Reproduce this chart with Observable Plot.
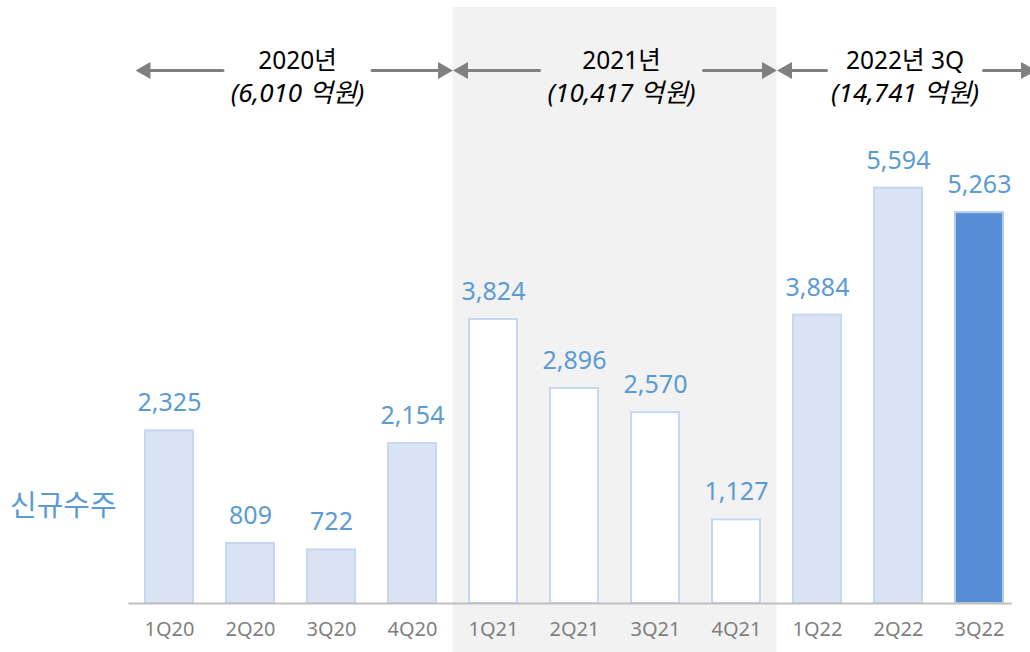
<!DOCTYPE html>
<html><head><meta charset="utf-8">
<script src="https://cdn.jsdelivr.net/npm/d3@7"></script>
<script src="https://cdn.jsdelivr.net/npm/@observablehq/plot@0.6"></script>
<style>
html,body{margin:0;padding:0;background:#fff;}
#chart svg{display:block;}
</style></head><body><div id="chart"></div>
<script>
// ---- data ----
const quarters = ["1Q20","2Q20","3Q20","4Q20","1Q21","2Q21","3Q21","4Q21","1Q22","2Q22","3Q22"];
const values = [2325, 809, 722, 2154, 3824, 2896, 2570, 1127, 3884, 5594, 5263];
const periodLabels = ["2020년", "2021년", "2022년 3Q"];
const periodTotals = ["(6,010 억원)", "(10,417 억원)", "(14,741 억원)"];
const periodQuarterCounts = [4, 4, 3];
const seriesName = "신규수주";

// ---- derived tables ----
const fmt = d3.format(",");
let first = 0;
const periods = periodLabels.map((label, k) => {
  const p = {k, label, total: periodTotals[k], start: first - 0.5, end: first + periodQuarterCounts[k] - 0.5};
  p.mid = (p.start + p.end) / 2;
  first += periodQuarterCounts[k];
  return p;
});
const bars = quarters.map((q, i) => {
  const k = periods.findIndex(p => i > p.start && i < p.end);
  return {q, i, value: values[i], k, last: i === quarters.length - 1};
});

// ---- styling ----
const yMax = 8000;
const headDy = 61;
const textDx = 6.5;
const gaps = [74.5, 82, 78.5];
const tipLeft = [6.5, 0, 0];
const tipRight = [0, 0, 16];
const arrowGray = "#808080";
const labelBlue = "#5b9bd5";

const arrowMarks = periods.flatMap(p => {
  const k = p.k;
  const common = {y1: () => yMax, y2: () => yMax, dy: headDy, stroke: arrowGray, strokeWidth: 3, headLength: 0};
  const dotCommon = {y: () => yMax, dy: headDy, symbol: "triangle", r: 6.4, fill: arrowGray, stroke: "none"};
  return [
    Plot.arrow([p], {...common, x1: "mid", x2: "start", insetStart: gaps[k] - textDx, insetEnd: tipLeft[k] + 10}),
    Plot.arrow([p], {...common, x1: "mid", x2: "end", insetStart: gaps[k] + textDx, insetEnd: 10 - tipRight[k]}),
    Plot.dot([p], {...dotCommon, x: "start", dx: tipLeft[k] + 10, rotate: -90}),
    Plot.dot([p], {...dotCommon, x: "end", dx: tipRight[k] - 10, rotate: 90})
  ];
});

const chart = Plot.plot({
  width: 1030,
  height: 652,
  marginLeft: 128.5,
  marginRight: 10.5,
  marginTop: 9,
  marginBottom: 49,
  style: {fontFamily: "'Noto Sans', 'Noto Sans CJK KR', sans-serif", background: "#ffffff"},
  x: {type: "linear", domain: [-0.5, quarters.length - 0.5], axis: null},
  y: {domain: [0, yMax], axis: null},
  marks: [
    // shaded 2021 band
    Plot.rect(periods.filter(p => p.k === 1), {x1: "start", x2: "end", fill: "#f2f2f2", insetTop: -2, insetBottom: -49}),
    // bars
    Plot.rectY(bars.filter(d => d.k !== 1 && !d.last), {x1: d => d.i - 0.5, x2: d => d.i + 0.5, y: "value", insetLeft: 16.5, insetRight: 16.5, fill: "#dae3f3", stroke: "#c5d7f1", strokeWidth: 2}),
    Plot.rectY(bars.filter(d => d.k === 1), {x1: d => d.i - 0.5, x2: d => d.i + 0.5, y: "value", insetLeft: 16.5, insetRight: 16.5, fill: "#ffffff", stroke: "#c5d7f1", strokeWidth: 2}),
    Plot.rectY(bars.filter(d => d.last), {x1: d => d.i - 0.5, x2: d => d.i + 0.5, y: "value", insetLeft: 16.5, insetRight: 16.5, fill: "#558ed5", stroke: "#b4cbe9", strokeWidth: 2}),
    // baseline
    Plot.ruleY([0], {stroke: "#bfbfbf", strokeWidth: 2, insetRight: 7.5}),
    // category labels
    Plot.text(bars, {x: "i", y: () => 0, text: "q", dy: 25.6, fill: "#7f7f7f", fontSize: 20}),
    // value labels
    Plot.text(bars, {x: "i", y: "value", text: d => fmt(d.value), dy: -27.6, fill: labelBlue, fontSize: 25}),
    // series name
    Plot.text([seriesName], {frameAnchor: "bottom-left", textAnchor: "start", dx: -119, dy: -88, fontSize: 29, fill: labelBlue}),
    // period headers
    Plot.text(periods, {x: "mid", frameAnchor: "top", text: "label", dx: textDx, dy: 42, fontSize: 24.5, fill: "#000000"}),
    Plot.text(periods, {x: "mid", frameAnchor: "top", text: "total", dx: textDx, dy: 74.5, fontSize: 26, fontStyle: "italic", fill: "#000000"}),
    ...arrowMarks
  ]
});
document.getElementById("chart").appendChild(chart);
</script>
</body></html>
